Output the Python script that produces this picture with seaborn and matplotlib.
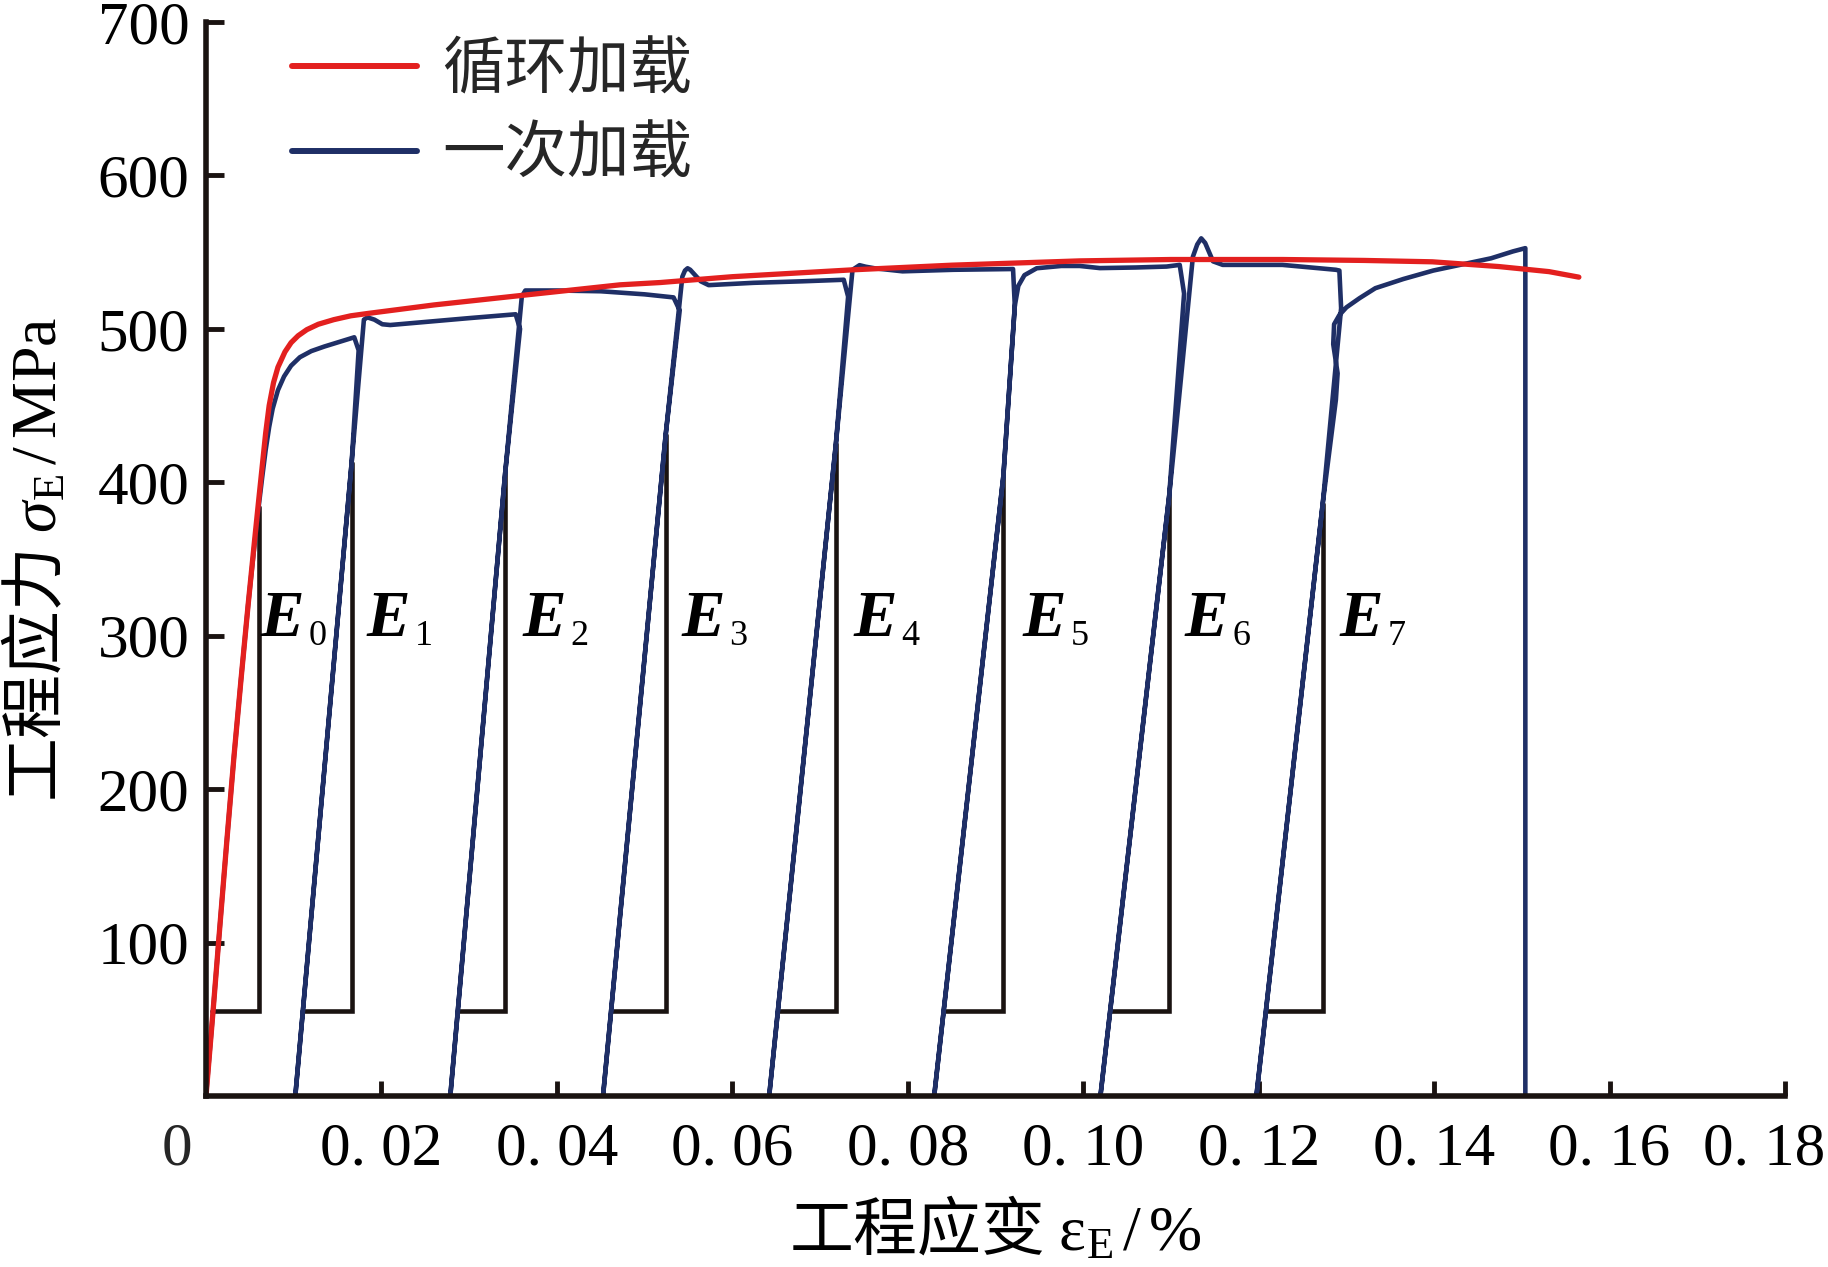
import matplotlib
matplotlib.use("Agg")
import matplotlib.pyplot as plt
import matplotlib.transforms as mtransforms
import pandas as pd
import seaborn as sns

# ---------------- data ----------------
cyclic_strain = [0.0, 0.0008, 0.0016, 0.0024, 0.0032, 0.0040, 0.0048, 0.0055, 0.0060, 0.0064,
                 0.0068, 0.0072, 0.0077, 0.0082, 0.0090, 0.0097, 0.0105, 0.0115, 0.0128,
                 0.01457, 0.0165, 0.0184, 0.0260, 0.0355, 0.0472, 0.0518, 0.0600, 0.0738,
                 0.0850, 0.0996, 0.1100, 0.1227, 0.1320, 0.1398, 0.1474, 0.1531, 0.1565]
cyclic_stress = [0, 55, 112, 168, 222, 272, 320, 360, 388, 410,
                 432, 450, 465, 475, 485, 491, 495.5, 499.5, 503,
                 506, 508.5, 510, 515.6, 521.5, 528.7, 530.2, 534, 538.5,
                 541.5, 544.3, 545.2, 545.2, 544.6, 543.7, 540.6, 537.3, 533.7]

mono_strain = [0.0000, 0.0008, 0.0016, 0.0024, 0.0032, 0.0040, 0.0048, 0.0055, 0.0060, 0.0064,
               0.0068, 0.0072, 0.0076, 0.0082, 0.0089, 0.0097, 0.0107, 0.0120, 0.0135, 0.0152,
               0.0169,
               0.0174, 0.0166, 0.01018,
               0.0166, 0.0180, 0.0184, 0.0192, 0.0201, 0.0210, 0.0260, 0.0300, 0.0353, 0.0358,
               0.0341, 0.02785,
               0.0341, 0.0360, 0.0364, 0.0372, 0.0400, 0.0450, 0.0500, 0.0533, 0.0540,
               0.0524, 0.04526,
               0.0524, 0.0543, 0.0546, 0.0549, 0.0552, 0.0556, 0.0564, 0.0573, 0.0624, 0.0680,
               0.0727, 0.0732,
               0.0718, 0.0642,
               0.0718, 0.0737, 0.0745, 0.0752, 0.0762, 0.0794, 0.0852, 0.0920, 0.0922,
               0.0909, 0.08301,
               0.0909, 0.0922, 0.0926, 0.0933, 0.0947, 0.0975, 0.0996, 0.1019, 0.1060, 0.1095,
               0.1110, 0.1115,
               0.1098, 0.10196,
               0.1098, 0.1109, 0.1125, 0.1130, 0.11345, 0.1139, 0.1148, 0.1159, 0.1227, 0.1288,
               0.1292, 0.1294,
               0.1273, 0.11974,
               0.1273, 0.1288, 0.1290, 0.1285, 0.1286, 0.1292, 0.1300, 0.1315, 0.1333, 0.1365,
               0.1399, 0.1432, 0.1465, 0.1490, 0.1504, 0.1504]
mono_stress = [0, 55, 112, 168, 222, 272, 320, 358, 384, 403,
               421, 436, 448, 460, 469, 476, 481.5, 485.5, 488.5, 491.5,
               494.5,
               486, 412.6, 0,
               412.6, 506, 507.5, 506, 503, 502.5, 505, 507, 509.5, 500,
               405.8, 0,
               405.8, 521, 525, 525, 525, 524.5, 522.5, 520.5, 512,
               430.9, 0,
               430.9, 534, 538, 539.5, 538.5, 536, 531, 528.5, 530, 531,
               532, 521,
               424.8, 0,
               424.8, 538.5, 541.5, 540.5, 539.5, 537.5, 538.5, 539, 515,
               404.3, 0,
               404.3, 515, 528, 535, 539.5, 541, 541, 539.6, 540, 540.6,
               541.7, 523,
               391.3, 0,
               391.3, 453.7, 547, 555, 559, 556, 544, 541.7, 541.7, 538.5,
               538, 513.5,
               386, 0,
               386, 453.7, 471, 490, 503, 509, 514, 520, 526.5, 532.5,
               538, 542, 546, 550.5, 552.6, 0]

# modulus brackets E0..E7
E_names = ["0", "1", "2", "3", "4", "5", "6", "7"]
E_left = [0.0007, 0.0110, 0.0287, 0.0462, 0.0652, 0.0841, 0.1030, 0.1210]
E_right = [0.0060, 0.0166, 0.0341, 0.0524, 0.0718, 0.0909, 0.1098, 0.1273]
E_top = [383.7, 412.6, 405.8, 430.9, 424.8, 404.3, 391.3, 386.0]
E_base = 55.5
E_label_x = [0.0062, 0.0183, 0.0361, 0.0542, 0.0738, 0.0931, 0.1116, 0.1292]
E_label_y = 300

x_ticks = [0.02, 0.04, 0.06, 0.08, 0.10, 0.12, 0.14, 0.16, 0.18]
x_tick_labels = ["0. 02", "0. 04", "0. 06", "0. 08", "0. 10", "0. 12", "0. 14", "0. 16", "0. 18"]
y_ticks = [100, 200, 300, 400, 500, 600, 700]
y_tick_labels = ["100", "200", "300", "400", "500", "600", "700"]

legend_labels = ["循环加载", "一次加载"]
x_label = "工程应变 $\\mathrm{\\varepsilon}_{\\mathrm{E}}\\,/\\,\\%$"
y_label = "工程应力 $\\sigma_{\\mathrm{E}}\\,/\\,\\mathrm{MPa}$"

# ---------------- style ----------------
RED = "#e3201f"
BLUE = "#1f2f66"
BLACK = "#1a1311"
SERIF = "Liberation Serif"

sns.set_theme(style="ticks")
plt.rcParams["font.family"] = ["Noto Sans CJK SC", "DejaVu Sans"]
plt.rcParams["mathtext.fontset"] = "custom"
plt.rcParams["mathtext.rm"] = SERIF
plt.rcParams["mathtext.it"] = SERIF + ":italic"
plt.rcParams["mathtext.bf"] = SERIF + ":bold"
plt.rcParams["axes.unicode_minus"] = False

W, H = 1828, 1267
fig = plt.figure(figsize=(W / 100, H / 100), dpi=100)
x0_px, x1_px, ytop_px, ybot_px = 206, 1785, 22, 1096
ax = fig.add_axes([x0_px / W, 1 - ybot_px / H, (x1_px - x0_px) / W, (ybot_px - ytop_px) / H])

df_mono = pd.DataFrame({"strain": mono_strain, "stress": mono_stress})
df_cyc = pd.DataFrame({"strain": cyclic_strain, "stress": cyclic_stress})

sns.lineplot(data=df_mono, x="strain", y="stress", sort=False, estimator=None,
             color=BLUE, linewidth=3.3, ax=ax, label=legend_labels[1])
sns.lineplot(data=df_cyc, x="strain", y="stress", sort=False, estimator=None,
             color=RED, linewidth=3.8, ax=ax, label=legend_labels[0])
for ln in ax.get_lines():
    ln.set_solid_joinstyle("round")

for xl, xr, yt in zip(E_left, E_right, E_top):
    ax.plot([xl, xr, xr], [E_base, E_base, yt], color=BLACK, linewidth=3.3,
            solid_joinstyle="miter", zorder=1.5)

for name, xl in zip(E_names, E_label_x):
    ax.text(xl, E_label_y, "E", fontfamily=SERIF, fontstyle="italic", fontweight="bold",
            fontsize=47, ha="left", va="baseline", color="black")
    ax.annotate(name, xy=(xl, E_label_y), xycoords="data", xytext=(48, -9),
                textcoords="offset pixels", fontfamily=SERIF, fontsize=26,
                ha="left", va="baseline", color="black")

ax.set_xlim(0, 0.18)
ax.set_ylim(0, 700)
ax.set_xticks(x_ticks, x_tick_labels, fontfamily=SERIF, fontsize=44)
ax.set_yticks(y_ticks, y_tick_labels, fontfamily=SERIF, fontsize=44)
ax.tick_params(axis="x", direction="in", length=11, width=3.5, color=BLACK, pad=19,
               labelcolor="black")
ax.tick_params(axis="y", direction="in", length=13, width=3.5, color=BLACK, pad=12,
               labelcolor="black")

# last x tick label sits flush with the right edge of the figure (as in the reference)
last = ax.get_xticklabels()[-1]
last.set_horizontalalignment("right")
last.set_transform(last.get_transform() +
                   mtransforms.ScaledTranslation(0.40, 0, fig.dpi_scale_trans))

for s in ["top", "right"]:
    ax.spines[s].set_visible(False)
for s in ["left", "bottom"]:
    ax.spines[s].set_linewidth(4)
    ax.spines[s].set_color(BLACK)

ax.annotate("0", xy=(0, 0), xycoords="data", xytext=(-29, -26), textcoords="offset pixels",
            ha="center", va="top", fontfamily=SERIF, fontsize=44, annotation_clip=False)

ax.set_xlabel(x_label, fontsize=46, color="black")
ax.set_ylabel(y_label, fontsize=46, color="black")
ax.xaxis.set_label_coords(0.5, -0.095)
ax.yaxis.set_label_coords(-0.085, 0.5)

handles, labels = ax.get_legend_handles_labels()
leg = ax.legend(handles[::-1], labels[::-1], loc="upper left",
                bbox_to_anchor=(292 / W, 1 - 38 / H), bbox_transform=fig.transFigure,
                frameon=False, fontsize=45, handlelength=2.0, handletextpad=0.4,
                labelspacing=0.33, borderpad=0, borderaxespad=0)
for ln in leg.get_lines():
    ln.set_linewidth(4.3)

fig.savefig("out.png", dpi=100)
